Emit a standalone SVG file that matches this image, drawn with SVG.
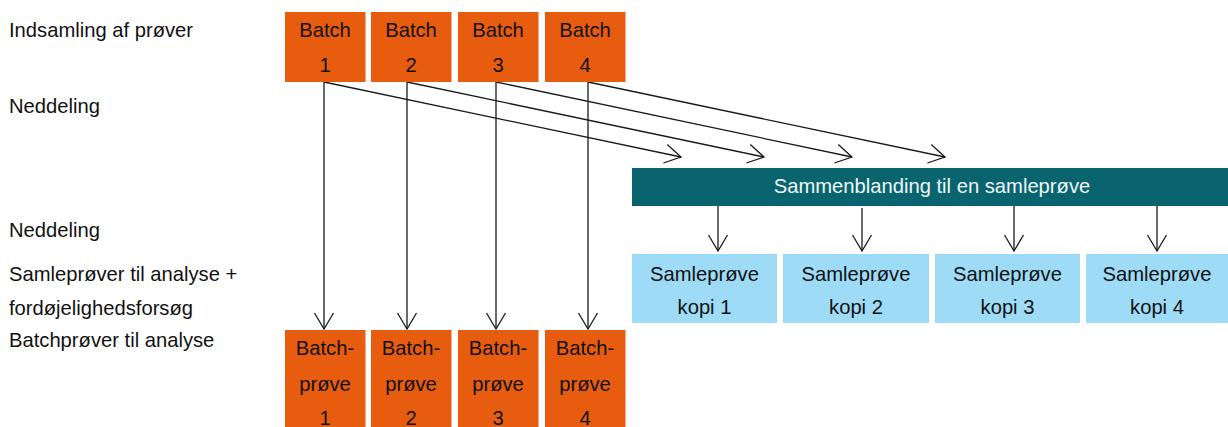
<svg xmlns="http://www.w3.org/2000/svg" width="1228" height="427" viewBox="0 0 1228 427">
  <defs>
    <style>
      text { font-family: "Liberation Sans", Arial, sans-serif; font-size: 20.2px; fill: #111; }
      .mid { text-anchor: middle; }
      .white { fill: #eef7f7; }
      .batch { fill: #e85c0f; }
      .mix { fill: #0a6470; }
      .copy { fill: #9edbf6; }
      .conn { fill: none; stroke: #1a1a1a; stroke-width: 1.3; }
    </style>
    <marker id="open" markerUnits="userSpaceOnUse" markerWidth="24" markerHeight="24" viewBox="-20 -12 24 24" refX="0" refY="0" orient="auto">
      <path d="M-16,-9.5 L0,0 L-16,9.5" fill="none" stroke="#1a1a1a" stroke-width="1.3"/>
    </marker>
  </defs>
  <rect width="1228" height="427" fill="#ffffff"/>

  <!-- row labels -->
  <g id="labels">
    <text x="9" y="37">Indsamling af prøver</text>
    <text x="9" y="113">Neddeling</text>
    <text x="9" y="237">Neddeling</text>
    <text x="9" y="281">Samleprøver til analyse +</text>
    <text x="9" y="315">fordøjelighedsforsøg</text>
    <text x="9" y="347">Batchprøver til analyse</text>
  </g>

  <!-- connectors -->
  <g id="connectors" class="conn">
    <line x1="324" y1="82" x2="324" y2="329" marker-end="url(#open)"/>
    <line x1="407" y1="82" x2="407" y2="329" marker-end="url(#open)"/>
    <line x1="496" y1="82" x2="496" y2="329" marker-end="url(#open)"/>
    <line x1="588" y1="82" x2="588" y2="329" marker-end="url(#open)"/>
    <line x1="324" y1="82" x2="681" y2="157" marker-end="url(#open)"/>
    <line x1="407" y1="82" x2="764" y2="157" marker-end="url(#open)"/>
    <line x1="496" y1="82" x2="852" y2="157" marker-end="url(#open)"/>
    <line x1="588" y1="82" x2="945" y2="157" marker-end="url(#open)"/>
    <line x1="718" y1="206" x2="718" y2="251" marker-end="url(#open)"/>
    <line x1="862" y1="208" x2="862" y2="251" marker-end="url(#open)"/>
    <line x1="1014" y1="206" x2="1014" y2="251" marker-end="url(#open)"/>
    <line x1="1157" y1="206" x2="1157" y2="251" marker-end="url(#open)"/>
  </g>

  <!-- incoming batches -->
  <g id="batch1"><rect class="batch" x="285" y="12" width="80.5" height="70"/><text class="mid" x="325" y="37">Batch</text><text class="mid" x="325" y="72">1</text></g>
  <g id="batch2"><rect class="batch" x="371" y="12" width="80.5" height="70"/><text class="mid" x="411" y="37">Batch</text><text class="mid" x="411" y="72">2</text></g>
  <g id="batch3"><rect class="batch" x="458" y="12" width="80.5" height="70"/><text class="mid" x="498" y="37">Batch</text><text class="mid" x="498" y="72">3</text></g>
  <g id="batch4"><rect class="batch" x="545" y="12" width="80.5" height="70"/><text class="mid" x="585" y="37">Batch</text><text class="mid" x="585" y="72">4</text></g>

  <!-- pooling -->
  <g id="mixing"><rect class="mix" x="632" y="168" width="596" height="38"/><text class="mid white" x="932" y="193">Sammenblanding til en samleprøve</text></g>

  <!-- pooled copies -->
  <g id="copy1"><rect class="copy" x="632" y="254" width="145" height="69"/><text class="mid" x="704.5" y="281">Samleprøve</text><text class="mid" x="704.5" y="314">kopi 1</text></g>
  <g id="copy2"><rect class="copy" x="783" y="254" width="146" height="69"/><text class="mid" x="856" y="281">Samleprøve</text><text class="mid" x="856" y="314">kopi 2</text></g>
  <g id="copy3"><rect class="copy" x="935" y="254" width="145" height="69"/><text class="mid" x="1007.5" y="281">Samleprøve</text><text class="mid" x="1007.5" y="314">kopi 3</text></g>
  <g id="copy4"><rect class="copy" x="1086" y="254" width="142" height="69"/><text class="mid" x="1157" y="281">Samleprøve</text><text class="mid" x="1157" y="314">kopi 4</text></g>

  <!-- batch samples -->
  <g id="sample1"><rect class="batch" x="285" y="330" width="80.5" height="97"/><text class="mid" x="325" y="355">Batch-</text><text class="mid" x="325" y="390.5">prøve</text><text class="mid" x="325" y="425">1</text></g>
  <g id="sample2"><rect class="batch" x="371" y="330" width="80.5" height="97"/><text class="mid" x="411" y="355">Batch-</text><text class="mid" x="411" y="390.5">prøve</text><text class="mid" x="411" y="425">2</text></g>
  <g id="sample3"><rect class="batch" x="458" y="330" width="80.5" height="97"/><text class="mid" x="498" y="355">Batch-</text><text class="mid" x="498" y="390.5">prøve</text><text class="mid" x="498" y="425">3</text></g>
  <g id="sample4"><rect class="batch" x="545" y="330" width="80.5" height="97"/><text class="mid" x="585" y="355">Batch-</text><text class="mid" x="585" y="390.5">prøve</text><text class="mid" x="585" y="425">4</text></g>
</svg>
